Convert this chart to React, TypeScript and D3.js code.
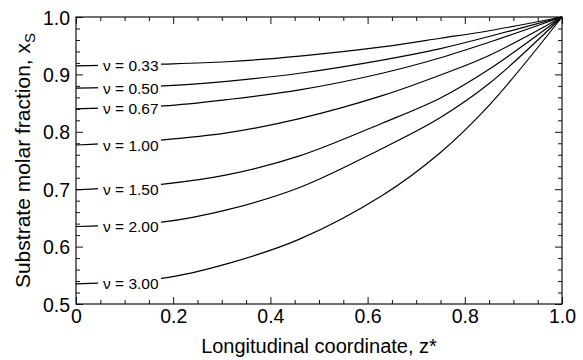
import React, { useRef, useEffect } from 'react'
import * as d3 from 'd3'

const zGrid = [0, 0.18, 0.31, 0.46, 0.63, 0.75, 0.85, 1.0]

const nuLabels = ['0.33', '0.50', '0.67', '1.00', '1.50', '2.00', '3.00']

// substrate molar fraction for each nu
const xs033 = [0.915, 0.918, 0.922, 0.932, 0.948, 0.963, 0.976, 1.0]
const xs050 = [0.876, 0.880, 0.888, 0.902, 0.925, 0.945, 0.966, 1.0]
const xs067 = [0.840, 0.845, 0.856, 0.873, 0.902, 0.929, 0.956, 1.0]
const xs100 = [0.777, 0.786, 0.798, 0.823, 0.863, 0.899, 0.933, 1.0]
const xs150 = [0.699, 0.709, 0.725, 0.758, 0.815, 0.859, 0.909, 1.0]
const xs200 = [0.635, 0.643, 0.664, 0.703, 0.771, 0.825, 0.884, 1.0]
const xs300 = [0.535, 0.545, 0.570, 0.613, 0.689, 0.764, 0.846, 1.0]

const xTicks = [0, 0.2, 0.4, 0.6, 0.8, 1.0]
const yTicks = [0.5, 0.6, 0.7, 0.8, 0.9, 1.0]

const FONT = '"Liberation Sans", Arial, Helvetica, sans-serif'

export default function App() {
  const svgRef = useRef<SVGSVGElement>(null)
  const width = 583
  const height = 360

  useEffect(() => {
    if (!svgRef.current) return
    const svg = d3.select(svgRef.current)
    svg.selectAll('*').remove()

    const margin = { top: 17, right: 21, bottom: 56, left: 76 }
    const innerWidth = width - margin.left - margin.right
    const innerHeight = height - margin.top - margin.bottom

    const g = svg.append('g')
      .attr('transform', `translate(${margin.left},${margin.top})`)

    const x = d3.scaleLinear().domain([0, 1]).range([0, innerWidth])
    const y = d3.scaleLinear().domain([0.5, 1]).range([innerHeight, 0])

    const xMinor = d3.range(0, 1.0001, 0.05).filter(v => !xTicks.some(t => Math.abs(t - v) < 1e-6))
    const yMinor = d3.range(0.5, 1.0001, 0.02).filter(v => !yTicks.some(t => Math.abs(t - v) < 1e-6))

    const fmt = (d: d3.NumberValue) => (+d === 0 ? '0' : (+d).toFixed(1))

    // major ticks with labels
    const bottom = g.append('g')
      .attr('transform', `translate(0,${innerHeight})`)
      .call(d3.axisBottom(x).tickValues(xTicks).tickSize(-7).tickSizeOuter(0).tickPadding(5).tickFormat(fmt))
    const left = g.append('g')
      .call(d3.axisLeft(y).tickValues(yTicks).tickSize(-7).tickSizeOuter(0).tickPadding(6).tickFormat(fmt))
    g.append('g')
      .call(d3.axisTop(x).tickValues(xTicks).tickSize(-7).tickSizeOuter(0).tickFormat(() => ''))
    g.append('g')
      .attr('transform', `translate(${innerWidth},0)`)
      .call(d3.axisRight(y).tickValues(yTicks).tickSize(-7).tickSizeOuter(0).tickFormat(() => ''))

    // minor ticks
    g.append('g')
      .attr('transform', `translate(0,${innerHeight})`)
      .call(d3.axisBottom(x).tickValues(xMinor).tickSize(-4).tickFormat(() => ''))
    g.append('g')
      .call(d3.axisTop(x).tickValues(xMinor).tickSize(-4).tickFormat(() => ''))
    g.append('g')
      .call(d3.axisLeft(y).tickValues(yMinor).tickSize(-4).tickFormat(() => ''))
    g.append('g')
      .attr('transform', `translate(${innerWidth},0)`)
      .call(d3.axisRight(y).tickValues(yMinor).tickSize(-4).tickFormat(() => ''))

    g.selectAll('.domain').remove()
    g.selectAll('.tick line').attr('stroke', '#111').attr('stroke-width', 1)
    g.selectAll('.tick text')
      .style('font-family', FONT)
      .style('font-size', '19.5px')
      .attr('fill', '#000')

    bottom.selectAll('text').attr('dy', '0.71em')
    left.selectAll('text').attr('dy', '0.36em')

    // frame
    g.append('rect')
      .attr('width', innerWidth)
      .attr('height', innerHeight)
      .attr('fill', 'none')
      .attr('stroke', '#111')
      .attr('stroke-width', 1.2)

    // curves
    const series = [xs033, xs050, xs067, xs100, xs150, xs200, xs300]
    const line = d3.line<number>()
      .x((_, i) => x(zGrid[i]))
      .y(d => y(d))
      .curve(d3.curveCatmullRom.alpha(0.5))

    g.selectAll('.curve')
      .data(series)
      .enter().append('path')
      .attr('class', 'curve')
      .attr('d', d => line(d))
      .attr('fill', 'none')
      .attr('stroke', '#000')
      .attr('stroke-width', 1.2)

    // inline labels sitting on the curves
    const labels = g.selectAll('.nu-label')
      .data(series)
      .enter().append('g')
      .attr('class', 'nu-label')

    labels.append('rect')
      .attr('x', 22)
      .attr('y', d => y(d[0]) - 12)
      .attr('width', 63)
      .attr('height', 21)
      .attr('fill', '#fff')

    labels.append('text')
      .attr('x', 27)
      .attr('y', d => y(d[0]))
      .attr('dy', '0.36em')
      .style('font-family', FONT)
      .style('font-size', '15.5px')
      .attr('fill', '#000')
      .text((_, i) => `\u03bd = ${nuLabels[i]}`)

    // axis titles
    svg.append('text')
      .attr('x', margin.left + innerWidth / 2)
      .attr('y', 353)
      .attr('text-anchor', 'middle')
      .style('font-family', FONT)
      .style('font-size', '20px')
      .text('Longitudinal coordinate, z*')

    const yt = svg.append('text')
      .attr('transform', `translate(30,${margin.top + innerHeight / 2}) rotate(-90)`)
      .attr('text-anchor', 'middle')
      .style('font-family', FONT)
      .style('font-size', '21px')
    yt.append('tspan').text('Substrate molar fraction, x')
    yt.append('tspan')
      .attr('dy', '0.3em')
      .style('font-size', '15px')
      .text('S')
  }, [])

  return (
    <svg
      ref={svgRef}
      width={width}
      height={height}
      style={{ position: 'absolute', left: 0, top: 0, backgroundColor: 'white', fontFamily: FONT }}
    />
  )
}
